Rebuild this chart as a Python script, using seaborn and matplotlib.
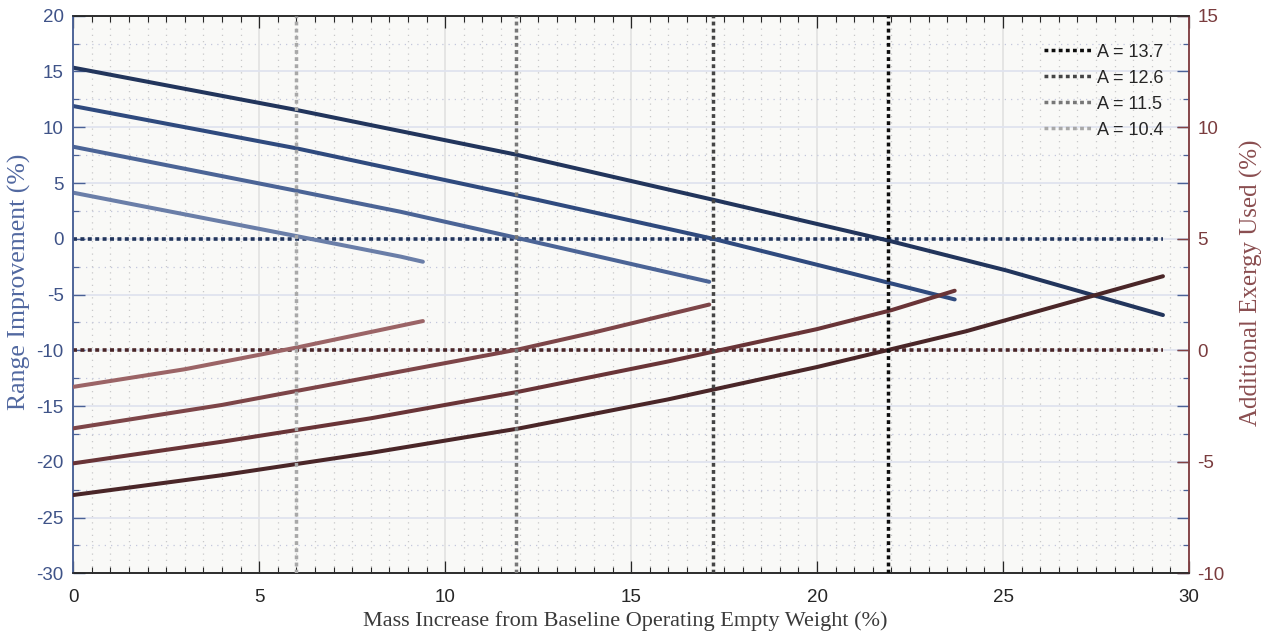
import matplotlib
matplotlib.use("Agg")
import matplotlib.pyplot as plt
import seaborn as sns
from matplotlib.ticker import MultipleLocator

# ---------------- data ----------------
aspect_labels = ["A = 13.7", "A = 12.6", "A = 11.5", "A = 10.4"]
breakeven_mass = [21.9, 17.2, 11.9, 6.0]      # vertical dotted lines (x)
zero_line_end = 29.3                           # extent of the dotted zero lines

# Range improvement (%), left axis
range_x_137 = [0, 6, 11.9, 17.2, 21.9, 25.1, 29.3]
range_y_137 = [15.34, 11.55, 7.55, 3.5, -0.15, -2.85, -6.84]
range_x_126 = [0, 6, 12.4, 17.2, 20.5, 23.7]
range_y_126 = [11.9, 8.11, 3.55, 0.0, -2.75, -5.44]
range_x_115 = [0, 6, 8.8, 11.9, 17.1]
range_y_115 = [8.25, 4.3, 2.42, 0.1, -3.86]
range_x_104 = [0, 6, 8.8, 9.4]
range_y_104 = [4.13, 0.24, -1.6, -2.06]

# Additional exergy used (%), right axis
exergy_x_137 = [0, 4, 8, 12, 16, 20, 24, 29.3]
exergy_y_137 = [-6.49, -5.6, -4.6, -3.5, -2.2, -0.75, 0.85, 3.32]
exergy_x_126 = [0, 4, 8, 12, 16, 20, 22, 23.7]
exergy_y_126 = [-5.07, -4.1, -3.05, -1.85, -0.5, 0.95, 1.8, 2.67]
exergy_x_115 = [0, 4, 8, 12, 14, 17.1]
exergy_y_115 = [-3.5, -2.45, -1.2, 0.05, 0.8, 2.05]
exergy_x_104 = [0, 3, 6, 9.4]
exergy_y_104 = [-1.64, -0.85, 0.12, 1.31]

x_ticks = [0, 5, 10, 15, 20, 25, 30]
left_ticks = [20, 15, 10, 5, 0, -5, -10, -15, -20, -25, -30]
right_ticks = [15, 10, 5, 0, -5, -10]

# ---------------- style ----------------
blue_cols = ["#22355c", "#2f4a7e", "#4b6496", "#6a7ea8"]
maroon_cols = ["#4a2628", "#693437", "#7d4548", "#9b6466"]
vline_cols = ["#0d0d0d", "#454545", "#777777", "#a8a8a8"]
blue_axis = "#4a6196"
maroon_axis = "#824244"
dark = "#262626"

sns.set_theme(style="white")
plt.rcParams["font.family"] = ["Liberation Sans", "DejaVu Sans"]
plt.rcParams["axes.unicode_minus"] = False
serif = ["Liberation Serif", "DejaVu Serif"]

fig = plt.figure(figsize=(12.71, 6.42), dpi=100)
ax = fig.add_axes([0.05767, 0.1070, 0.8778, 0.8685])
ax.set_facecolor("#f9f9f7")
ax2 = ax.twinx()

ax.set_xlim(0, 30)
ax.set_ylim(-30, 20)
ax2.set_ylim(-10, 15)

# grid
ax.xaxis.set_major_locator(MultipleLocator(5))
ax.xaxis.set_minor_locator(MultipleLocator(0.5))
ax.yaxis.set_major_locator(MultipleLocator(5))
ax.yaxis.set_minor_locator(MultipleLocator(2.5))
ax.set_axisbelow(True)
ax.grid(which="major", axis="x", color="#e3e3e3", lw=1.3, ls="-")
ax.grid(which="major", axis="y", color="#e0e3ef", lw=1.3, ls="-")
ax.grid(which="minor", axis="x", color="#c9c9c9", lw=0.9, ls=(0, (1, 4)))
ax.grid(which="minor", axis="y", color="#c3c7dc", lw=0.9, ls=(0, (1, 4)))

# curves
range_sets = [(range_x_137, range_y_137), (range_x_126, range_y_126),
              (range_x_115, range_y_115), (range_x_104, range_y_104)]
exergy_sets = [(exergy_x_137, exergy_y_137), (exergy_x_126, exergy_y_126),
               (exergy_x_115, exergy_y_115), (exergy_x_104, exergy_y_104)]
for (xs, ys), c in zip(range_sets, blue_cols):
    sns.lineplot(x=xs, y=ys, ax=ax, color=c, lw=2.9, sort=False, legend=False, zorder=3)
for (xs, ys), c in zip(exergy_sets, maroon_cols):
    sns.lineplot(x=xs, y=ys, ax=ax2, color=c, lw=2.9, sort=False, legend=False, zorder=3)

dots = (0, (1.1, 0.95))
ax.hlines(0, 0, zero_line_end, color=blue_cols[0], lw=2.6, ls=dots, zorder=2)
ax2.hlines(0, 0, zero_line_end, color=maroon_cols[0], lw=2.6, ls=dots, zorder=2)

for xv, c, lab in zip(breakeven_mass, vline_cols, aspect_labels):
    ax2.axvline(xv, color=c, lw=2.5, ls=dots, label=lab, zorder=4)

leg = ax2.legend(loc="upper right", bbox_to_anchor=(0.977, 0.95), frameon=False,
                 fontsize=13, handlelength=2.6, handletextpad=0.35,
                 labelspacing=0.5, borderpad=0, borderaxespad=0)

# ticks
ax.set_xticks(x_ticks)
ax.set_yticks(left_ticks)
ax2.set_yticks(right_ticks)
ax.tick_params(axis="x", which="both", direction="in", bottom=True, top=True,
               colors=dark, labelsize=13.5, pad=11)
ax.tick_params(axis="x", which="major", length=8.6, width=0.9)
ax.tick_params(axis="x", which="minor", length=4.3, width=0.8)
ax.tick_params(axis="y", which="both", direction="in", left=True, right=True,
               labelleft=True, labelright=False, color=blue_axis,
               labelcolor="#3f5388", labelsize=13.5, pad=7)
ax.tick_params(axis="y", which="major", length=8.6, width=1.0)
ax.tick_params(axis="y", which="minor", length=4.3, width=0.9)
ax2.tick_params(axis="y", which="major", direction="in", right=True, left=False,
                color=maroon_axis, labelcolor="#7a3c3e", labelsize=13.5,
                length=8.6, width=1.0, pad=6)
ax2.yaxis.set_minor_locator(MultipleLocator(100))

for a in (ax, ax2):
    a.spines["left"].set_color(blue_axis)
    a.spines["right"].set_color(maroon_axis)
    a.spines["top"].set_color(dark)
    a.spines["bottom"].set_color(dark)
    for s in a.spines.values():
        s.set_linewidth(1.1)
        s.set_visible(True)

ax.set_xticklabels([str(v) for v in x_ticks])

ax.set_xlabel("Mass Increase from Baseline Operating Empty Weight (%)",
              family=serif, fontsize=16, color="#3a3a3a")
ax.set_ylabel("Range Improvement (%)", family=serif, fontsize=18.5, color="#5168a0")
ax2.set_ylabel("Additional Exergy Used (%)", family=serif, fontsize=18, color="#8a4e50")
ax.xaxis.set_label_coords(0.495, -0.068)
ax.yaxis.set_label_coords(-0.038, 0.522)
ax2.yaxis.set_label_coords(1.0457, 0.522)

fig.savefig("out.png", dpi=100, facecolor="white")
